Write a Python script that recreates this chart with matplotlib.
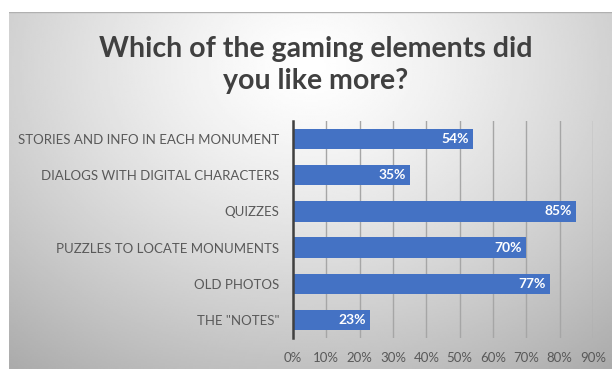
import numpy as np
import matplotlib.pyplot as plt

categories = ['STORIES AND INFO IN EACH MONUMENT', 'DIALOGS WITH DIGITAL CHARACTERS',
              'QUIZZES', 'PUZZLES TO LOCATE MONUMENTS', 'OLD PHOTOS', 'THE "NOTES"']
values = [0.54, 0.35, 0.85, 0.70, 0.77, 0.23]
ticks = [0, 0.1, 0.2, 0.3, 0.4, 0.5, 0.6, 0.7, 0.8, 0.9]

plt.rcParams['font.family'] = ['Lato', 'DejaVu Sans']

fig = plt.figure(figsize=(6.12, 3.69), dpi=100)
fig.patch.set_facecolor('white')

# gradient panel behind everything
bg = fig.add_axes([9 / 612, 0, 1 - 9 / 612, 1 - 12 / 369], zorder=0)
yy, xx = np.mgrid[0:1:200j, 0:1:300j]
r = np.sqrt(((xx - 0.5) / 0.75) ** 2 + ((yy - 0.15) / 1.0) ** 2)
shade = 1.0 - 0.3 * np.clip(r, 0, 1.2) ** 1.3
bg.imshow(shade, cmap='gray', vmin=0, vmax=1, aspect='auto', extent=[0, 1, 1, 0])
bg.plot([0, 1], [0.0, 0.0], color='#b0b0b0', lw=1)
bg.set_xlim(0, 1)
bg.set_ylim(1, 0)
bg.axis('off')

ax = fig.add_axes([293 / 612, 1 - 338 / 369, 300 / 612, 217 / 369], zorder=1)
ax.patch.set_alpha(0)
y = np.arange(len(categories))
ax.barh(y, values, height=0.56, color='#4472c4', zorder=3)
for yi, v in zip(y, values):
    ax.text(v - 0.012, yi, f'{round(v * 100)}%', ha='right', va='center',
            color='white', fontsize=10, fontweight='bold', zorder=4)

ax.set_xlim(0, 0.9)
ax.set_ylim(len(categories) - 0.5, -0.5)
ax.set_xticks(ticks)
ax.set_xticklabels([f'{round(t * 100)}%' for t in ticks], color='#595959', fontsize=9.5)
ax.set_yticks(y)
ax.set_yticklabels(categories, color='#595959', fontsize=9.5)
ax.tick_params(length=0, pad=10)
ax.tick_params(axis='x', pad=10)
ax.grid(axis='x', color='#a6a6a6', lw=1, zorder=0)
for s in ['top', 'right', 'bottom']:
    ax.spines[s].set_visible(False)
ax.spines['left'].set_color('#404040')
ax.spines['left'].set_linewidth(1.8)
ax.spines['left'].set_zorder(5)

fig.text(316 / 612, 1 - 65 / 369, 'Which of the gaming elements did\nyou like more?', ha='center', va='center',
         fontsize=20.5, fontweight='bold', color='#404040', linespacing=1.25)

fig.savefig('out.png', dpi=100)
